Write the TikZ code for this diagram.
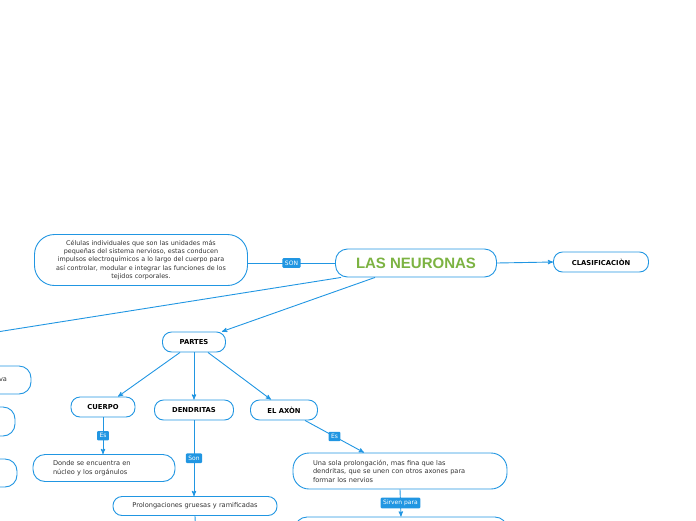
\documentclass[tikz,border=0pt]{standalone}
\usepackage{fontspec}
\setmainfont{DejaVu Sans}
\newfontfamily\titlefont{Liberation Sans}
\usetikzlibrary{arrows}
\definecolor{mmblue}{RGB}{33,150,226}
\definecolor{mmgreen}{RGB}{124,179,66}
\definecolor{mmtext}{RGB}{51,51,51}

\begin{document}
\begin{tikzpicture}[x=1pt,y=-1pt,>=stealth',
 box/.style={draw=mmblue,line width=.9pt,rounded corners=9pt,fill=white,text=black,
   font=\fontsize{6.8}{8}\selectfont\bfseries,minimum height=20,inner sep=2pt},
 txtbox/.style={draw=mmblue,line width=.9pt,rounded corners=12pt,fill=white,text=mmtext,
   font=\fontsize{6.6}{8.6}\selectfont,inner xsep=20,align=left},
 lbl/.style={fill=mmblue,text=white,font=\fontsize{6}{7}\selectfont,inner sep=2.5pt,rounded corners=1pt},
 link/.style={mmblue,line width=.9pt}]
\useasboundingbox (0,0) rectangle (696,520);
\clip (0,0) rectangle (696,520);

% main node and its description
\node[box,font=\titlefont\fontsize{15}{16}\selectfont\bfseries,text=mmgreen,minimum width=161,minimum height=28,rounded corners=12pt] (neuronas) at (416,263) {LAS NEURONAS};
\node[txtbox,align=center,font=\fontsize{6.4}{8.4}\selectfont,text width=185,inner xsep=14,minimum height=51,rounded corners=20pt] (desc) at (141,260)
 {Células individuales que son las unidades más\\ pequeñas del sistema nervioso, estas conducen\\ impulsos electroquímicos a lo largo del cuerpo para\\ así controlar, modular e integrar las funciones de los\\ tejidos corporales.};
\node[box,minimum width=95] (clasif) at (601,262) {CLASIFICACIÒN};
\coordinate (tipos) at (-60,341);

% parts
\node[box,minimum width=63] (partes) at (194,342) {PARTES};
\node[box,minimum width=64] (cuerpo) at (103,407) {CUERPO};
\node[box,minimum width=79] (dendritas) at (194,410) {DENDRITAS};
\node[box,minimum width=67] (axon) at (284,410) {EL AXÒN};

\node[txtbox,text width=102,minimum height=27] (nucleo) at (104,468) {Donde se encuentra en\\ núcleo y los orgánulos};
\node[txtbox,align=center,text width=150,inner xsep=7,minimum height=19,rounded corners=9pt] (prolong) at (195,506) {Prolongaciones gruesas y ramificadas};
\node[txtbox,text width=174,minimum height=36,rounded corners=16pt] (fina) at (400,471)
 {Una sola prolongación, mas fina que las\\ dendritas, que se unen con otros axones para\\ formar los nervios};
\node[txtbox,minimum width=212,minimum height=30] (sirven) at (401,532) {};
\coordinate (sigue) at (196,540);

% cut-off boxes on the left
\node[txtbox,minimum width=120,minimum height=28,text width=72,align=right,inner xsep=24] (izq1) at (-29,380) {va};
\node[txtbox,minimum width=120,minimum height=29] (izq2) at (-45,421.5) {};
\node[txtbox,minimum width=120,minimum height=28] (izq3) at (-43,473) {};

% connectors
\draw[link] ([yshift=-3]desc.east) -- node[lbl] {SON} (neuronas.west);
\draw[link,->] (neuronas.east) -- (clasif.west);
\draw[link] ([xshift=6]neuronas.south west) -- (tipos);
\draw[link,->] ([xshift=-41]neuronas.south) -- ([xshift=-4]partes.north east);
\draw[link,->] ([xshift=-14]partes.south) -- ([xshift=15]cuerpo.north);
\draw[link,->] (partes.south) -- (dendritas.north);
\draw[link,->] ([xshift=14]partes.south) -- ([xshift=-13]axon.north);
\draw[link,->] (cuerpo.south) -- node[lbl] {Es} (nucleo.north-|cuerpo.south);
\draw[link,->] (dendritas.south) -- node[lbl] {Son} (prolong.north-|dendritas.south);
\draw[link] (prolong.south) -- (sigue);
\draw[link,->] ([xshift=21]axon.south) -- node[lbl] {Es} ([xshift=-36]fina.north);
\draw[link,->] (fina.south) -- node[lbl] {Sirven para} (sirven.north);
\end{tikzpicture}
\end{document}
